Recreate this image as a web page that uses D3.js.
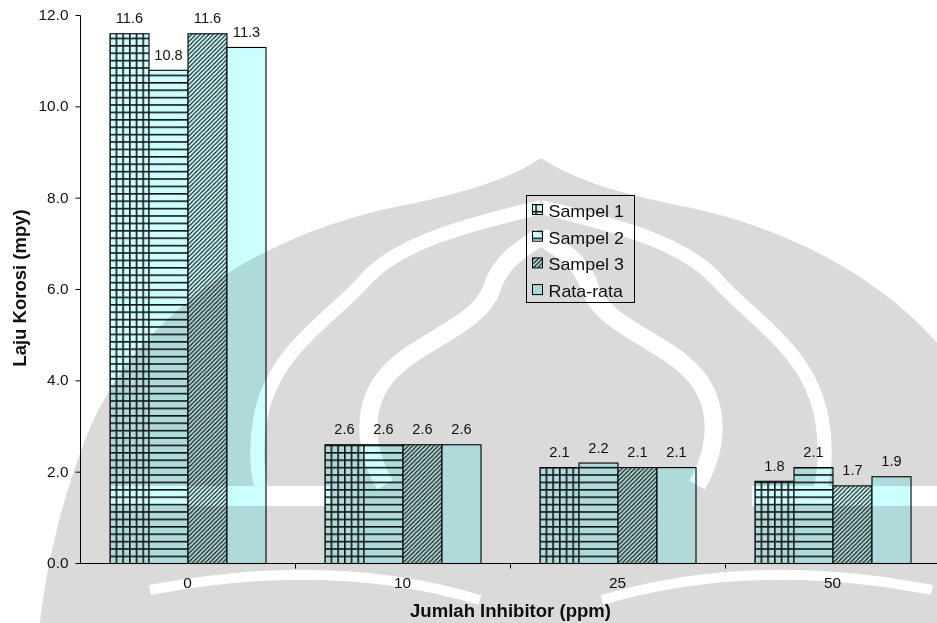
<!DOCTYPE html>
<html>
<head>
<meta charset="utf-8">
<script src="https://cdn.jsdelivr.net/npm/d3@7"></script>
<style>
  html, body { margin: 0; padding: 0; background: #fff; }
  svg { display: block; }
  text { font-family: Arial, "Liberation Sans", sans-serif; fill: #111; }
</style>
</head>
<body>
<svg id="chart" width="937" height="623"></svg>
<script>
// Corrosion rate per inhibitor dose
const categories = ["0", "10", "25", "50"];
const seriesNames = ["Sampel 1", "Sampel 2", "Sampel 3", "Rata-rata"];
const sampel1 = [11.6, 2.6, 2.1, 1.8];
const sampel2 = [10.8, 2.6, 2.2, 2.1];
const sampel3 = [11.6, 2.6, 2.1, 1.7];
const rataRata = [11.3, 2.6, 2.1, 1.9];
const yTicks = [0, 2, 4, 6, 8, 10, 12];
const xTitle = "Jumlah Inhibitor (ppm)";
const yTitle = "Laju Korosi (mpy)";

const seriesValues = [sampel1, sampel2, sampel3, rataRata];
const fills = ["url(#pGrid)", "url(#pHoriz)", "url(#pDiag)", "#ccffff"];

const svg = d3.select("#chart");
const W = 937, H = 623;
const plot = { left: 80, right: 940, top: 15, bottom: 563 };

// widen glyphs horizontally a little
function stretch(sel, k) {
  sel.each(function () {
    const len = this.getComputedTextLength();
    d3.select(this).attr("textLength", len * k).attr("lengthAdjust", "spacingAndGlyphs");
  });
}

svg.append("rect").attr("width", W).attr("height", H).attr("fill", "#fff");

const defs = svg.append("defs");
const ink = "#151515";
const cyan = "#ccffff";

// large grid
const pg = defs.append("pattern").attr("id", "pGrid").attr("patternUnits", "userSpaceOnUse")
  .attr("x", 109.3).attr("y", 563).attr("width", 6.7).attr("height", 7.4);
pg.append("rect").attr("width", 6.7).attr("height", 7.4).attr("fill", cyan);
pg.append("rect").attr("x", 0).attr("y", 0).attr("width", 1.6).attr("height", 7.4).attr("fill", ink);
pg.append("rect").attr("x", 0).attr("y", 0).attr("width", 6.7).attr("height", 1.6).attr("fill", ink);

// horizontal stripes
const ph = defs.append("pattern").attr("id", "pHoriz").attr("patternUnits", "userSpaceOnUse")
  .attr("x", 0).attr("y", 563).attr("width", 8).attr("height", 7.4);
ph.append("rect").attr("width", 8).attr("height", 7.4).attr("fill", cyan);
ph.append("rect").attr("x", 0).attr("y", 0).attr("width", 8).attr("height", 1.6).attr("fill", ink);

// narrow upward diagonal
const dS = 4.3;
const pd = defs.append("pattern").attr("id", "pDiag").attr("patternUnits", "userSpaceOnUse")
  .attr("width", dS).attr("height", dS);
pd.append("rect").attr("width", dS).attr("height", dS).attr("fill", cyan);
pd.append("path")
  .attr("d", `M0,${dS} L${dS},0 M${-dS / 2},${dS / 2} L${dS / 2},${-dS / 2} M${dS / 2},${dS * 1.5} L${dS * 1.5},${dS / 2}`)
  .attr("stroke", ink).attr("stroke-width", 1.1);

// scales
const x0 = d3.scaleBand().domain(categories).range([plot.left, plot.right]).paddingInner(0).paddingOuter(0);
const x1 = d3.scaleBand().domain(seriesNames).range([0, x0.bandwidth()]).paddingInner(0).paddingOuter(0.756);
const y = d3.scaleLinear().domain([0, 12]).range([plot.bottom, plot.top]);

// background emblem: pointed dome with petal gaps cut out by a mask
const mx = x => 1082 - x;
const mirrorPath = pts => pts.map(p => typeof p === "string" ? p : `${mx(p[0])},${p[1]}`).join(" ");
const mask = defs.append("mask").attr("id", "emblemGaps").attr("maskUnits", "userSpaceOnUse")
  .attr("x", 0).attr("y", 0).attr("width", W).attr("height", H);
mask.append("rect").attr("width", W).attr("height", H).attr("fill", "#fff");
const outerGap = ["M", [541, 207], "C", [480, 222], [400, 240], [365, 280], "C", [330, 320], [272, 350], [260, 420], "C", [255, 450], [258, 475], [262, 490]];
const innerGap = ["M", [541, 236], "C", [520, 250], [500, 262], [492, 288], "C", [480, 325], [420, 340], [390, 372], "C", [362, 402], [362, 445], [385, 485]];
const gaps = [
  { d: outerGap.map(p => typeof p === "string" ? p : p.join(",")).join(" "), w: 14 },
  { d: mirrorPath(outerGap), w: 14 },
  { d: innerGap.map(p => typeof p === "string" ? p : p.join(",")).join(" "), w: 18 },
  { d: mirrorPath(innerGap), w: 18 },
  { d: "M110,496 L330,496", w: 20 },
  { d: `M${mx(110)},496 L${mx(330)},496`, w: 20 },
  { d: "M150,590 Q330,555 480,600", w: 10 },
  { d: `M${mx(150)},590 Q${mx(330)},555 ${mx(480)},600`, w: 10 }
];
mask.selectAll("path").data(gaps).join("path")
  .attr("d", d => d.d).attr("fill", "none").attr("stroke", "#000").attr("stroke-width", d => d.w);

// bars
const groups = svg.append("g").selectAll("g").data(categories).join("g")
  .attr("transform", d => `translate(${x0(d)},0)`);

const barData = (c, ci) => seriesNames.map((s, si) => ({ s, si, v: seriesValues[si][ci] }));

groups.selectAll("rect").data((c, ci) => barData(c, ci)).join("rect")
  .attr("x", d => x1(d.s) + 0.5)
  .attr("y", d => y(d.v) + 0.5)
  .attr("width", x1.bandwidth())
  .attr("height", d => y(0) - y(d.v))
  .attr("fill", d => fills[d.si])
  .attr("stroke", "#000")
  .attr("stroke-width", 1.1);

// value labels
groups.selectAll("text.val").data((c, ci) => barData(c, ci)).join("text")
  .attr("class", "val")
  .attr("x", d => x1(d.s) + x1.bandwidth() / 2 + 0.5)
  .attr("y", d => y(d.v) - 10)
  .attr("text-anchor", "middle")
  .style("font-size", "14px")
  .text(d => d3.format(".1f")(d.v))
  .call(stretch, 1.04);

// y axis
const yAxis = svg.append("g").attr("transform", `translate(${plot.left + 0.5},0)`)
  .call(d3.axisLeft(y).tickValues(yTicks).tickFormat(d3.format(".1f")).tickSize(5).tickPadding(7));
yAxis.select(".domain").attr("stroke", "#000").attr("d", `M0,${plot.top + 0.5}V${plot.bottom + 0.5}`);
yAxis.selectAll(".tick line").attr("stroke", "#000");
yAxis.selectAll(".tick text").style("font-size", "14px").style("font-family", "Arial, 'Liberation Sans', sans-serif")
  .attr("fill", "#111").call(stretch, 1.1);

// x axis: labels at category centres, ticks on category boundaries
const xAxis = svg.append("g").attr("transform", `translate(0,${plot.bottom + 0.5})`)
  .call(d3.axisBottom(x0).tickSize(0).tickPadding(15));
xAxis.select(".domain").attr("stroke", "#000").attr("d", `M${plot.left},0H${plot.right}`);
xAxis.selectAll(".tick text").style("font-size", "14px").style("font-family", "Arial, 'Liberation Sans', sans-serif")
  .attr("fill", "#111").attr("dy", "0.68em").call(stretch, 1.1);
const boundaries = categories.map(c => x0(c)).concat([x0(categories[categories.length - 1]) + x0.bandwidth()]);
xAxis.selectAll("line.sep").data(boundaries.slice(1)).join("line")
  .attr("class", "sep")
  .attr("x1", d => Math.round(d) + 0.5).attr("x2", d => Math.round(d) + 0.5)
  .attr("y1", 0).attr("y2", 5).attr("stroke", "#000");

// axis titles
svg.append("text").attr("x", 510.5).attr("y", 617)
  .attr("text-anchor", "middle").style("font-size", "17.5px").style("font-weight", "bold")
  .text(xTitle).call(stretch, 1.06);
svg.append("text").attr("transform", "translate(26,288) rotate(-90)")
  .attr("text-anchor", "middle").style("font-size", "18.5px").style("font-weight", "bold")
  .text(yTitle);

// legend
const lg = svg.append("g").attr("transform", "translate(526.5,195.5)");
lg.append("rect").attr("width", 108).attr("height", 107).attr("fill", "#fff").attr("stroke", "#000");
const rows = lg.selectAll("g").data(seriesNames).join("g")
  .attr("transform", (d, i) => `translate(0,${i * 26.7})`);
rows.append("rect").attr("x", 6).attr("y", 9).attr("width", 10).attr("height", 10)
  .attr("fill", (d, i) => fills[i]).attr("stroke", "#000");
rows.append("text").attr("x", 22).attr("y", 21.5).style("font-size", "17px").text(d => d)
  .call(stretch, 1.05);

// emblem on top, multiply blended
const domePath = `M541,158 C505,182 455,195 400,206 C280,230 140,300 85,440 C60,505 45,570 38,640
  L${mx(38)},640 C${mx(45)},570 ${mx(60)},505 ${mx(85)},440 C${mx(140)},300 ${mx(280)},230 ${mx(400)},206
  C${mx(455)},195 ${mx(505)},182 541,158 Z`;
svg.append("g").style("mix-blend-mode", "multiply").attr("mask", "url(#emblemGaps)")
  .append("path").attr("d", domePath).attr("fill", "#dadada");
</script>
</body>
</html>
